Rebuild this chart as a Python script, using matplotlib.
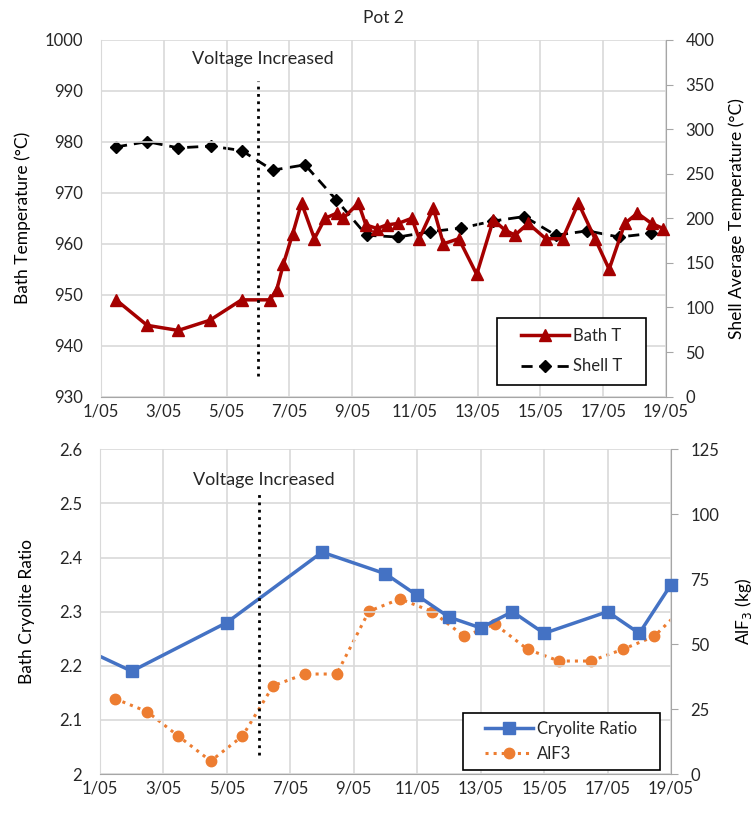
import matplotlib.pyplot as plt
from matplotlib.patches import Rectangle
from matplotlib.lines import Line2D

plt.rcParams['font.family'] = ['Lato', 'DejaVu Sans']
plt.rcParams['font.size'] = 12
plt.rcParams['text.color'] = '#262626'
plt.rcParams['xtick.color'] = '#262626'
plt.rcParams['ytick.color'] = '#262626'

# ---- data (day of May, fractional) ----
bath_day = [1.48, 2.47, 3.46, 4.47, 5.48, 6.38, 6.60, 6.81, 7.11, 7.39, 7.80, 8.14,
            8.51, 8.72, 9.20, 9.44, 9.80, 10.10, 10.47, 10.90, 11.14, 11.59, 11.91,
            12.40, 12.97, 13.50, 13.87, 14.19, 14.61, 15.17, 15.71, 16.21, 16.74,
            17.19, 17.69, 18.09, 18.54, 18.91]
bath_temp = [949, 944, 943, 945, 949, 949, 951, 956, 962, 968, 961, 965,
             966, 965, 968, 963.7, 963, 963.7, 964, 965, 961, 967, 960,
             961, 954, 964.7, 962.7, 961.7, 964, 961, 961, 968, 961,
             955, 964, 966, 964, 963]

shell_day = [1.48, 2.47, 3.46, 4.49, 5.48, 6.47, 7.50, 8.49, 9.46, 10.47, 11.48,
             12.47, 13.50, 14.49, 15.49, 16.50, 17.50, 18.52]
shell_temp = [280, 286, 279, 281, 276, 254, 260, 221, 181, 179, 185,
              189, 197, 202, 181, 186, 179, 183]

cr_day = [0, 2, 5, 8, 10, 11, 12, 13, 14, 15, 17, 18, 19]
cr_value = [2.245, 2.19, 2.28, 2.41, 2.37, 2.33, 2.29, 2.27, 2.30, 2.26, 2.30, 2.26, 2.35]

alf3_day = [1.47, 2.49, 3.47, 4.49, 5.49, 6.46, 7.46, 8.46, 9.48, 10.46, 11.48,
            12.48, 13.45, 14.48, 15.47, 16.47, 17.48, 18.47, 19.47]
alf3_kg = [29, 24, 14.6, 5, 14.6, 34, 38.5, 38.5, 62.7, 67.4, 62.5,
           53, 57.7, 48, 43.5, 43.5, 48, 53, 65]

voltage_day = 6
day_ticks = list(range(1, 20, 2))
day_labels = [f"{d}/05" for d in day_ticks]

red = '#A50000'
blue = '#4472C4'
orange = '#ED7D31'
grid_c = '#D9D9D9'
axis_c = '#A6A6A6'

fig = plt.figure(figsize=(7.53, 8.14), dpi=100)
ax1 = fig.add_axes([0.1341, 0.5127, 0.7503, 0.4382])
ax3 = fig.add_axes([0.1328, 0.0491, 0.7583, 0.3989])


def style_axes(ax, axr):
    ax.set_xlim(1, 19)
    ax.set_xticks(day_ticks)
    ax.set_xticklabels(day_labels)
    ax.grid(True, color=grid_c, linewidth=1.2)
    ax.set_axisbelow(True)
    for s in ['top', 'right']:
        ax.spines[s].set_visible(False)
    ax.spines['left'].set_color(grid_c)
    ax.spines['bottom'].set_color(axis_c)
    ax.tick_params(axis='x', length=0, pad=5)
    ax.tick_params(axis='y', length=0, pad=13)
    for s in ['top', 'left', 'bottom']:
        axr.spines[s].set_visible(False)
    axr.spines['right'].set_color(axis_c)
    axr.tick_params(axis='y', length=5, color=axis_c, pad=9)


def plot_series(ax, x, y, color, ls, lw, marker, ms, dashes=None):
    kw = dict(color=color, linestyle=ls, linewidth=lw)
    if dashes:
        kw['dashes'] = dashes
    ax.plot(x, y, **kw)
    pts = [(a, b) for a, b in zip(x, y) if 1 <= a <= 19.05]
    ax.plot([p[0] for p in pts], [p[1] for p in pts], linestyle='none', marker=marker,
            markersize=ms, color=color, clip_on=False)
    h = Line2D([], [], marker=marker, markersize=ms, **kw)
    return h


def boxed_legend(ax, handles, labels, box, spacing):
    x0, y0, w, h = box
    ax.add_patch(Rectangle((x0, y0), w, h, transform=ax.transAxes, facecolor='white',
                           edgecolor='black', linewidth=1.2, zorder=20, clip_on=False))
    leg = ax.legend(handles, labels, loc='center', bbox_to_anchor=(x0 + w / 2, y0 + h / 2),
                    frameon=False, handlelength=2.9, handletextpad=0.25,
                    labelspacing=spacing, fontsize=12)
    leg.set_zorder(21)


# ---- top panel ----
ax2 = ax1.twinx()
style_axes(ax1, ax2)
ax1.set_ylim(930, 1000)
ax1.set_yticks(range(930, 1001, 10))
ax2.set_ylim(0, 400)
ax2.set_yticks(range(0, 401, 50))
h_shell = plot_series(ax2, shell_day, shell_temp, 'black', '--', 2, 'D', 6, dashes=(4, 2.5))
ax1.set_zorder(ax2.get_zorder() + 1)
ax1.patch.set_visible(False)
h_bath = plot_series(ax1, bath_day, bath_temp, red, '-', 2.5, '^', 9)
ax1.plot([voltage_day, voltage_day], [934, 992], color='black', linestyle=':', linewidth=2)
ax1.text(voltage_day + 0.15, 996.2, 'Voltage Increased', ha='center', va='center', fontsize=13)
ax1.set_ylabel('Bath Temperature (°C)', fontsize=12.5)
ax1.yaxis.set_label_coords(-0.124, 0.5)
ax2.set_ylabel('Shell Average Temperature (°C)', fontsize=12.5)
ax2.yaxis.set_label_coords(1.110, 0.5)
ax1.set_title('Pot 2', fontsize=12.5, pad=12)
boxed_legend(ax1, [h_bath, h_shell], ['Bath T', 'Shell T'], (0.701, 0.033, 0.264, 0.188), 0.85)

# ---- bottom panel ----
ax4 = ax3.twinx()
style_axes(ax3, ax4)
ax3.set_ylim(2.0, 2.6)
ax3.set_yticks([2.0, 2.1, 2.2, 2.3, 2.4, 2.5, 2.6])
ax3.set_yticklabels(['2', '2.1', '2.2', '2.3', '2.4', '2.5', '2.6'])
ax4.set_ylim(0, 125)
ax4.set_yticks(range(0, 126, 25))
h_alf = plot_series(ax4, alf3_day, alf3_kg, orange, ':', 2.2, 'o', 7.5)
ax3.set_zorder(ax4.get_zorder() + 1)
ax3.patch.set_visible(False)
h_cr = plot_series(ax3, cr_day, cr_value, blue, '-', 2.5, 's', 9)
ax3.plot([voltage_day, voltage_day], [2.036, 2.518], color='black', linestyle=':', linewidth=2)
ax3.text(voltage_day + 0.15, 2.543, 'Voltage Increased', ha='center', va='center', fontsize=13)
ax3.set_ylabel('Bath Cryolite Ratio', fontsize=12.5)
ax3.yaxis.set_label_coords(-0.114, 0.5)
ax4.set_ylabel('AlF$_3$ (kg)', fontsize=12.5)
ax4.yaxis.set_label_coords(1.109, 0.5)
boxed_legend(ax3, [h_cr, h_alf], ['Cryolite Ratio', 'AlF3'], (0.635, 0.0123, 0.3455, 0.1765), 0.5)

fig.savefig('out.png', dpi=100)
